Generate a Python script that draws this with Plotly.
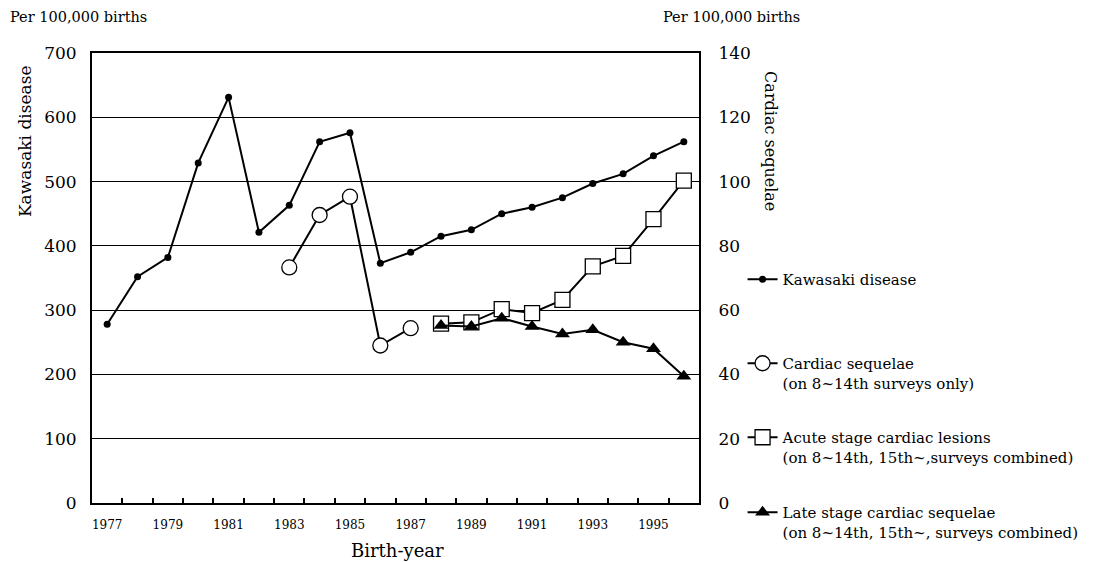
import plotly.graph_objects as go

years = list(range(1977, 1997))
kawasaki = [278, 352, 382, 529, 631, 421, 463, 562, 576, 373,
            390, 415, 425, 450, 460, 475, 497, 512, 540, 562]
cardiac_years = [1983, 1984, 1985, 1986, 1987]
cardiac = [73.3, 89.6, 95.3, 49.0, 54.4]
late_years = list(range(1988, 1997))
acute = [55.8, 56.2, 60.3, 59.1, 63.2, 73.6, 76.9, 88.3, 100.3]
late = [55.2, 54.9, 57.5, 54.9, 52.6, 53.9, 50.0, 48.0, 39.4]
tick_years = [1977, 1979, 1981, 1983, 1985, 1987, 1989, 1991, 1993, 1995]
between_ticks = [y + 0.5 for y in range(1977, 1996)]

FONT = "DejaVu Serif"
BLK = "black"
OFF = 8  # browser body margin

fig = go.Figure()
fig.add_trace(go.Scatter(
    x=years, y=kawasaki, mode="lines+markers", name="Kawasaki disease",
    line=dict(color=BLK, width=2), marker=dict(symbol="circle", size=7, color=BLK),
    legend="legend"))
fig.add_trace(go.Scatter(
    x=cardiac_years, y=cardiac, mode="lines+markers", yaxis="y2",
    name="Cardiac sequelae<br>(on 8~14th surveys only)",
    line=dict(color=BLK, width=2),
    marker=dict(symbol="circle", size=15, color="white", line=dict(color=BLK, width=1.3)),
    legend="legend2"))
fig.add_trace(go.Scatter(
    x=late_years, y=acute, mode="lines+markers", yaxis="y2",
    name="Acute stage cardiac lesions<br>(on 8~14th, 15th~,surveys combined)",
    line=dict(color=BLK, width=2),
    marker=dict(symbol="square", size=15, color="white", line=dict(color=BLK, width=1.3)),
    legend="legend3"))
fig.add_trace(go.Scatter(
    x=late_years, y=late, mode="lines+markers", yaxis="y2",
    name="Late stage cardiac sequelae<br>(on 8~14th, 15th~, surveys combined)",
    line=dict(color=BLK, width=2),
    marker=dict(symbol="triangle-up", size=13, color=BLK),
    legend="legend4"))

def px_y(ypx):
    return (503 - ypx) / 450

def px_x(xpx):
    return (xpx - 92) / 608

def leg(ypx):
    return dict(x=1.07, y=px_y(ypx), xanchor="left", yanchor="top",
                font=dict(family=FONT, size=15, color=BLK), bgcolor="rgba(0,0,0,0)",
                itemwidth=30, valign="top", tracegroupgap=0)

def ann(text, xpx, ypx, size, angle=0, xanchor="center"):
    return dict(text=text, x=px_x(xpx), y=px_y(ypx), xref="paper", yref="paper",
                xanchor=xanchor, yanchor="middle", textangle=angle, showarrow=False,
                font=dict(size=size, family=FONT, color=BLK))

fig.update_layout(
    width=1094 - OFF, height=562 - OFF,
    margin=dict(l=92 - OFF, r=394, t=53 - OFF, b=59),
    paper_bgcolor="white", plot_bgcolor="white",
    font=dict(family=FONT, color=BLK),
    showlegend=True,
    legend=leg(263), legend2=leg(347), legend3=leg(421), legend4=leg(496),
    xaxis=dict(range=[1976.5, 1996.5], tickvals=tick_years,
               ticktext=[str(t) for t in tick_years], ticks="",
               tickfont=dict(size=12, family=FONT), ticklabelstandoff=10,
               showline=True, linecolor=BLK, linewidth=2, mirror=True,
               showgrid=False, zeroline=False,
               minor=dict(tickvals=between_ticks, ticks="inside", ticklen=5,
                          tickwidth=2, tickcolor=BLK, showgrid=False)),
    yaxis=dict(range=[0, 700], dtick=100, tick0=0, showgrid=True,
               gridcolor=BLK, gridwidth=1, zeroline=False,
               showline=True, linecolor=BLK, linewidth=2,
               tickfont=dict(size=17, family=FONT), ticklabelstandoff=10),
    yaxis2=dict(range=[0, 140], dtick=20, tick0=0, overlaying="y", side="right",
                showgrid=False, zeroline=False, showline=True, linecolor=BLK,
                linewidth=2, tickfont=dict(size=17, family=FONT), ticklabelstandoff=14),
    annotations=[
        ann("Kawasaki disease", 25, 141, 17, angle=-90),
        ann("Cardiac sequelae", 772, 141, 16, angle=90),
        ann("Per 100,000 births", 8, 17, 14.5, xanchor="left"),
        ann("Per 100,000 births", 662, 17, 14.5, xanchor="left"),
        ann("Birth-year", 398, 550, 18),
    ],
)

fig.write_html("out.html")
